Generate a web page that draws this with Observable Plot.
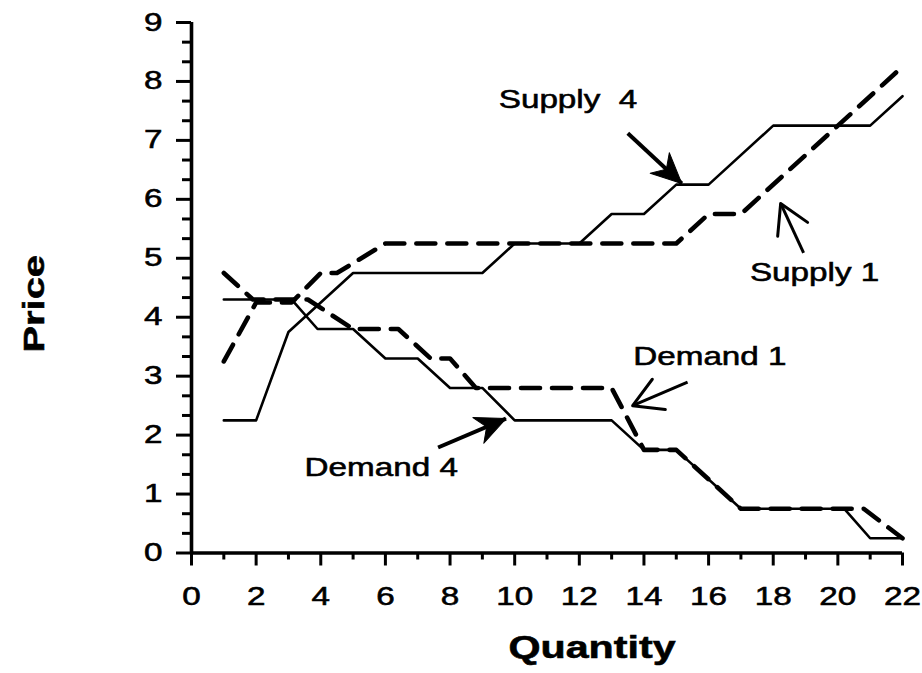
<!DOCTYPE html>
<html><head><meta charset="utf-8">
<script src="https://cdn.jsdelivr.net/npm/d3@7"></script>
<script src="https://cdn.jsdelivr.net/npm/@observablehq/plot@0.6"></script>
<style>
html,body{margin:0;padding:0;background:#fff;}
#chart svg text{stroke:black;stroke-width:0.55px;paint-order:stroke;}
</style>
</head><body><div id="chart"></div>
<script>
// ---- data ----
const supply4Q = [1, 2, 3, 5, 9, 10, 12, 13, 14, 15, 16, 18, 21, 22];
const supply4P = [2.25, 2.25, 3.75, 4.75, 4.75, 5.25, 5.25, 5.75, 5.75, 6.25, 6.25, 7.25, 7.25, 7.75];
const supply1Q = [1, 2, 3.1, 4, 4.5, 6, 15, 16, 17, 22];
const supply1P = [3.25, 4.25, 4.25, 4.75, 4.75, 5.25, 5.25, 5.75, 5.75, 8.25];
const demand4Q = [1, 3.1, 3.9, 5, 6, 7, 8, 9, 10, 13, 14, 15, 17, 20.2, 21, 22];
const demand4P = [4.3, 4.3, 3.8, 3.8, 3.3, 3.3, 2.8, 2.8, 2.25, 2.25, 1.75, 1.75, 0.75, 0.75, 0.25, 0.25];
const demand1Q = [1, 1.9, 3.6, 5, 6.4, 7.4, 8, 8.8, 13, 14, 15, 17, 20.8, 22];
const demand1P = [4.75, 4.3, 4.3, 3.8, 3.8, 3.3, 3.3, 2.8, 2.8, 1.75, 1.75, 0.75, 0.75, 0.25];

const xMajorTicks = [0, 2, 4, 6, 8, 10, 12, 14, 16, 18, 20, 22];
const xMinorTicks = [1, 3, 5, 7, 9, 11, 13, 15, 17, 19, 21];
const yMajorTicks = [0, 1, 2, 3, 4, 5, 6, 7, 8, 9];
const yMinorTicks = d3.range(0, 27).map(i => i / 3).filter((v, i) => i % 3 !== 0);

const labelText = ["Supply\u00a0\u00a04", "Supply 1", "Demand 1", "Demand 4"];
const labelQ = [11.65, 19.28, 16.04, 5.87];
const labelP = [7.68, 4.75, 3.32, 1.44];

const arrowFromQ = [13.50, 18.94, 15.35, 7.63];
const arrowFromP = [7.12, 5.09, 2.90, 1.79];
const arrowToQ = [15.17, 18.23, 13.65, 9.73];
const arrowToP = [6.27, 5.93, 2.50, 2.28];
const arrowHead = ["filled", "open", "open", "filled"];

// ---- layout ----
const W = 922, H = 673;
const mL = 191, mR = 20, mT = 22, mB = 120.5;
const xDomain = [0, 22], yDomain = [0, 9];
const kx = (W - mL - mR) / (xDomain[1] - xDomain[0]);
const ky = (H - mT - mB) / (yDomain[1] - yDomain[0]);

const toRows = (Q, P) => Q.map((q, i) => ({q, p: P[i]}));
const labels = labelText.map((t, i) => ({t, q: labelQ[i], p: labelP[i]}));
const arrows = arrowFromQ.map((q, i) => ({
  x1: q, y1: arrowFromP[i], x2: arrowToQ[i], y2: arrowToP[i], head: arrowHead[i],
  angle: Math.atan2((arrowToQ[i] - q) * kx, (arrowToP[i] - arrowFromP[i]) * ky) * 180 / Math.PI
}));

const filledHead = {draw(ctx) { ctx.moveTo(0, 0); ctx.lineTo(-14, 30); ctx.lineTo(0, 21); ctx.lineTo(14, 30); ctx.closePath(); }};
const openHead = {draw(ctx) { ctx.moveTo(-16.5, 28.5); ctx.lineTo(0, 0); ctx.lineTo(16.5, 28.5); }};

const solid = {x: "q", y: "p", stroke: "black", strokeWidth: 2.6, strokeLinejoin: "round"};
const dashed = {x: "q", y: "p", stroke: "black", strokeWidth: 4.6, strokeLinejoin: "round", strokeDasharray: "19,12"};

const plot = Plot.plot({
  width: W, height: H,
  marginLeft: mL, marginRight: mR, marginTop: mT, marginBottom: mB,
  x: {domain: xDomain},
  y: {domain: yDomain},
  style: {fontFamily: "'Liberation Sans', Arial, Helvetica, sans-serif", fontSize: "25px", color: "black", background: "white", overflow: "visible"},
  marks: [
    Plot.axisX({ticks: xMajorTicks, tickSize: 13, tickPadding: 21, tickFormat: d => String(d), label: null, strokeWidth: 3}),
    Plot.axisX({ticks: xMinorTicks, tickSize: 7, tickFormat: () => "", label: null, strokeWidth: 3}),
    Plot.axisY({ticks: yMajorTicks, tickSize: 15, tickPadding: 14, tickFormat: d => String(d), label: null, strokeWidth: 3}),
    Plot.axisY({ticks: yMinorTicks, tickSize: 9, tickFormat: () => "", label: null, strokeWidth: 3}),
    Plot.ruleX([0], {strokeWidth: 3.6}),
    Plot.ruleY([0], {strokeWidth: 3.6}),
    Plot.line(toRows(supply4Q, supply4P), solid),
    Plot.line(toRows(demand4Q, demand4P), solid),
    Plot.line(toRows(supply1Q, supply1P), dashed),
    Plot.line(toRows(demand1Q, demand1P), dashed),
    Plot.link(arrows.filter(d => d.head === "filled"), {x1: "x1", y1: "y1", x2: "x2", y2: "y2", stroke: "black", strokeWidth: 4}),
    Plot.link(arrows.filter(d => d.head === "open"), {x1: "x1", y1: "y1", x2: "x2", y2: "y2", stroke: "black", strokeWidth: 3}),
    Plot.vector(arrows.filter(d => d.head === "filled"), {x: "x2", y: "y2", rotate: "angle", length: 30, anchor: "start", shape: filledHead, fill: "black", stroke: "black", strokeWidth: 1}),
    Plot.vector(arrows.filter(d => d.head === "open"), {x: "x2", y: "y2", rotate: "angle", length: 30, anchor: "start", shape: openHead, stroke: "black", strokeWidth: 3, strokeLinecap: "round"}),
    Plot.text(labels, {x: "q", y: "p", text: "t", fontSize: 25, textAnchor: "middle", lineAnchor: "middle"}),
    Plot.text(["Price"], {frameAnchor: "left", textAnchor: "middle", lineAnchor: "middle", rotate: -90, dx: -157, dy: 16, fontSize: 30, fontWeight: "bold"}),
    Plot.text(["Quantity"], {frameAnchor: "bottom", textAnchor: "middle", lineAnchor: "middle", dx: 45, dy: 95, fontSize: 31, fontWeight: "bold"})
  ]
});

// the scanned figure's lettering is horizontally wide: stretch glyphs about their anchor
plot.querySelectorAll("text").forEach(t => {
  const tr = t.getAttribute("transform") || "";
  t.setAttribute("transform", tr + " scale(1.33,1)");
});

document.getElementById("chart").appendChild(plot);
</script>
</body></html>
